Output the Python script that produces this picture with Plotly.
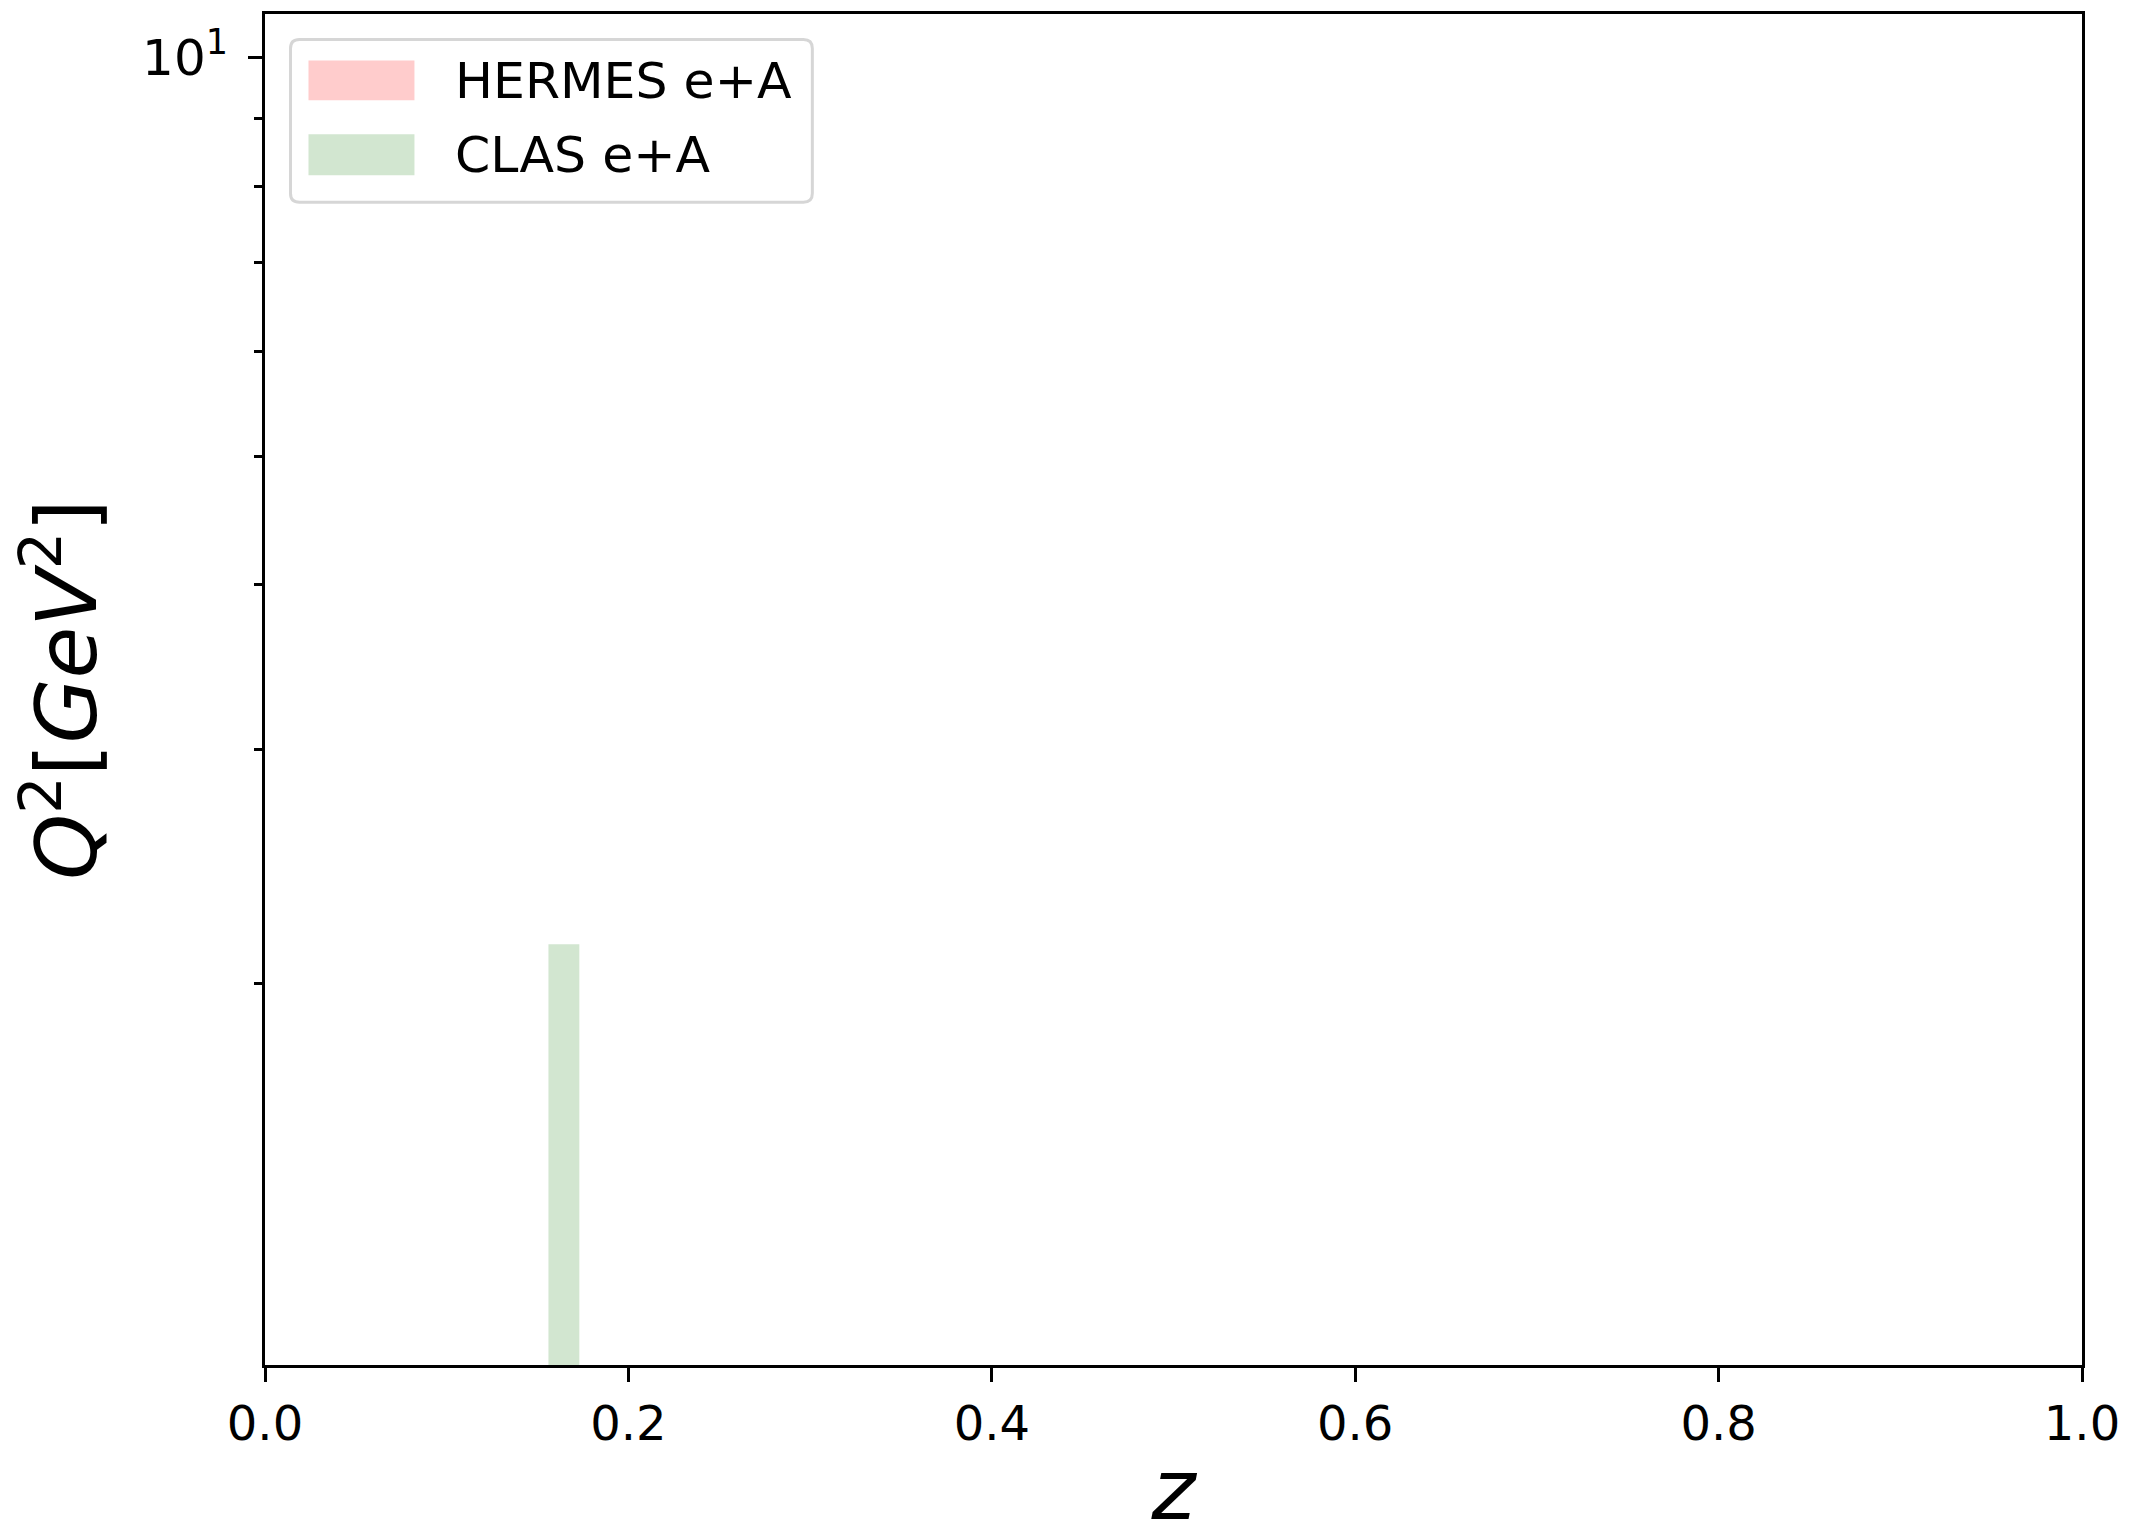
import plotly.graph_objects as go

# Kinematic coverage in (z, Q^2) of the e+A measurements
clas_z = [0.156, 0.173]          # z interval covered by CLAS
clas_q2 = [1.0, 2.14]            # Q^2 interval [GeV^2] covered by CLAS

legend_labels = ["HERMES e+A", "CLAS e+A"]
legend_colors = ["#ffcccc", "#d2e6d0"]

x_ticks = [0.0, 0.2, 0.4, 0.6, 0.8, 1.0]
x_ticktext = ["0.0", "0.2", "0.4", "0.6", "0.8", "1.0"]
y_major = [10]
y_major_text = ["10<sup>1</sup>"]
y_minor = [2, 3, 4, 5, 6, 7, 8, 9]

FONT = "DejaVu Sans"

fig = go.Figure()

# CLAS region as a filled rectangle in data coordinates
fig.add_trace(go.Scatter(
    x=[clas_z[0], clas_z[1], clas_z[1], clas_z[0], clas_z[0]],
    y=[clas_q2[0], clas_q2[0], clas_q2[1], clas_q2[1], clas_q2[0]],
    mode="lines", fill="toself", fillcolor=legend_colors[1],
    line=dict(width=0, color=legend_colors[1]),
    name=legend_labels[1], showlegend=False, hoverinfo="skip",
))

W, H = 2138, 1539
L, R, T, B = 264.5, 2082.0, 13.6, 1365.0


def px_x(px):
    return (px - L) / (R - L)


def px_y(py):
    return (B - py) / (B - T)


def rounded_rect(x0, y0, x1, y1, r):
    # corners in pixels, converted into paper coordinates
    pts = []
    pts.append(f"M{px_x(x0 + r)},{px_y(y0)}")
    pts.append(f"L{px_x(x1 - r)},{px_y(y0)}")
    pts.append(f"Q{px_x(x1)},{px_y(y0)} {px_x(x1)},{px_y(y0 + r)}")
    pts.append(f"L{px_x(x1)},{px_y(y1 - r)}")
    pts.append(f"Q{px_x(x1)},{px_y(y1)} {px_x(x1 - r)},{px_y(y1)}")
    pts.append(f"L{px_x(x0 + r)},{px_y(y1)}")
    pts.append(f"Q{px_x(x0)},{px_y(y1)} {px_x(x0)},{px_y(y1 - r)}")
    pts.append(f"L{px_x(x0)},{px_y(y0 + r)}")
    pts.append(f"Q{px_x(x0)},{px_y(y0)} {px_x(x0 + r)},{px_y(y0)}")
    return " ".join(pts) + " Z"


shapes = [dict(type="path", xref="paper", yref="paper",
               path=rounded_rect(290, 39, 812, 202, 9),
               fillcolor="white", line=dict(color="#d6d6d6", width=3), layer="above")]
annotations = []
patch_rows = [(60, 100), (134, 175)]
for (ya, yb), lab, col in zip(patch_rows, legend_labels, legend_colors):
    shapes.append(dict(type="rect", xref="paper", yref="paper",
                       x0=px_x(308), x1=px_x(414), y0=px_y(yb), y1=px_y(ya),
                       fillcolor=col, line=dict(width=0), layer="above"))
    annotations.append(dict(xref="paper", yref="paper", x=px_x(453), y=px_y((ya + yb) / 2),
                            text=lab, showarrow=False, xanchor="left", yanchor="middle",
                            font=dict(family=FONT, size=50.5, color="black")))

fig.update_layout(
    width=W, height=H,
    margin=dict(l=L, r=W - R, t=T, b=H - B, pad=0),
    paper_bgcolor="white", plot_bgcolor="white",
    showlegend=False,
    font=dict(family=FONT, color="black"),
    shapes=shapes, annotations=annotations,
    xaxis=dict(
        range=[0, 1], tickmode="array", tickvals=x_ticks, ticktext=x_ticktext,
        ticks="outside", ticklen=14, tickwidth=3, tickcolor="black",
        tickfont=dict(family=FONT, size=48, color="black"),
        showline=True, linecolor="black", linewidth=3, mirror=True,
        showgrid=False, zeroline=False,
        title=dict(text="<i>z</i>", font=dict(family=FONT, size=84, color="black"), standoff=14),
    ),
    yaxis=dict(
        type="log", range=[0.0126, 1.033],
        tickmode="array", tickvals=y_major, ticktext=y_major_text,
        ticks="outside", ticklen=14, tickwidth=3, tickcolor="black",
        tickfont=dict(family=FONT, size=50, color="black"),
        ticklabelstandoff=10,
        minor=dict(tickmode="array", tickvals=y_minor, ticks="outside",
                   ticklen=8, tickwidth=2.5, tickcolor="black", showgrid=False),
        showline=True, linecolor="black", linewidth=3, mirror=True,
        showgrid=False, zeroline=False,
        title=dict(text="<i>Q</i><sup>2</sup>[<i>GeV</i><sup>2</sup>]",
                   font=dict(family=FONT, size=84, color="black"), standoff=18),
    ),
)

fig.write_html("out.html")
